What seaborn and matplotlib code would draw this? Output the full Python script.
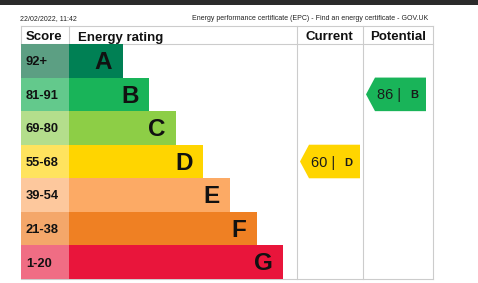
import matplotlib
matplotlib.use('Agg')
import matplotlib.pyplot as plt
from matplotlib.patches import Polygon, Rectangle
import seaborn as sns
import pandas as pd

# ---- data ----
bands = ['A', 'B', 'C', 'D', 'E', 'F', 'G']
score_ranges = ['92+', '81-91', '69-80', '55-68', '39-54', '21-38', '1-20']
band_lower = [92, 81, 69, 55, 39, 21, 1]
band_lengths = [2, 3, 4, 5, 6, 7, 8]
band_colors = ['#008054', '#19b459', '#8dce46', '#ffd500', '#fcaa65', '#ef8023', '#e9153b']
score_colors = ['#5c9f83', '#63c98c', '#b4de8c', '#ffe35e', '#fdc89d', '#f4a76a', '#f06d84']
current_score = 60
potential_score = 86
header_labels = ['Score', 'Energy rating', 'Current', 'Potential']
date_text = '22/02/2022, 11:42'
page_title = 'Energy performance certificate (EPC) - Find an energy certificate - GOV.UK'

plt.rcParams['font.family'] = ['Liberation Sans', 'DejaVu Sans']

W, H = 478, 283
fig = plt.figure(figsize=(W / 100, H / 100), dpi=100)
fig.patch.set_facecolor('white')

# overlay in pixel coordinates for layout (frame, header)
ov = fig.add_axes([0, 0, 1, 1])
ov.set_xlim(0, W)
ov.set_ylim(H, 0)
ov.axis('off')
ov.add_patch(Rectangle((0, 0), W, 5, color='#2b2b2b', lw=0))
ov.text(20, 19, date_text, fontsize=5, va='center', ha='left', color='#222222')
ov.text(428, 19, page_title, fontsize=5, va='center', ha='right', color='#222222')

T_L, T_R, T_TOP, T_HDR, T_BOT = 21, 433, 26, 44, 279
COL_BAR, COL_CUR, COL_POT = 69, 297, 363
lc = '#cccccc'
lw = 0.8
ov.plot([T_L, T_R], [T_TOP, T_TOP], color=lc, lw=lw)
ov.plot([T_L, T_R], [T_HDR, T_HDR], color=lc, lw=lw)
ov.plot([T_L, T_R], [T_BOT, T_BOT], color=lc, lw=lw)
ov.plot([T_L, T_L], [T_TOP, T_HDR], color=lc, lw=lw)
ov.plot([COL_BAR, COL_BAR], [T_TOP, T_HDR], color=lc, lw=lw)
for xx in (COL_CUR, COL_POT, T_R):
    ov.plot([xx, xx], [T_TOP, T_BOT], color=lc, lw=lw)

for lab, xx in zip(header_labels, [26, 78, 306, 370]):
    ov.text(xx, 40.5, lab, fontsize=9.5, weight='bold', va='baseline', ha='left', color='#111111')

# score column
axs = fig.add_axes([T_L / W, 1 - T_BOT / H, (COL_BAR - T_L) / W, (T_BOT - T_HDR) / H])
sdf = pd.DataFrame({'band': bands, 'w': [1] * len(bands)})
sns.barplot(data=sdf, x='w', y='band', hue='band', palette=score_colors, width=1,
            saturation=1, legend=False, ax=axs, orient='h', linewidth=0)
axs.set_xlim(0, 1)
axs.set_ylim(6.5, -0.5)
axs.axis('off')
for i, lab in enumerate(score_ranges):
    axs.text(5 / (COL_BAR - T_L), i + 0.04, lab, fontsize=9.3, weight='bold', va='center', ha='left', color='#111111')

# rating bars
u = 26.8
ax = fig.add_axes([COL_BAR / W, 1 - T_BOT / H, (T_R - COL_BAR) / W, (T_BOT - T_HDR) / H])
df = pd.DataFrame({'band': bands, 'length': band_lengths})
sns.barplot(data=df, x='length', y='band', hue='band', palette=band_colors, width=1,
            saturation=1, legend=False, ax=ax, orient='h', linewidth=0)
ax.set_xlim(0, (T_R - COL_BAR) / u)
ax.set_ylim(6.5, -0.5)
ax.axis('off')
for i, (b, L) in enumerate(zip(bands, band_lengths)):
    ax.text(L - 10.5 / u, i + 0.05, b, fontsize=17.5, weight='bold', va='center', ha='right', color='#111111')


def band_of(score):
    for i, lo in enumerate(band_lower):
        if score >= lo:
            return i
    return len(band_lower) - 1


def px(x):
    return (x - COL_BAR) / u


def arrow(score, col_left):
    i = band_of(score)
    xt, xb, xr = px(col_left + 3), px(col_left + 12), px(col_left + 63)
    poly = Polygon([(xt, i), (xb, i - 0.5), (xr, i - 0.5), (xr, i + 0.5), (xb, i + 0.5)],
                   closed=True, facecolor=band_colors[i], edgecolor='none', clip_on=False)
    ax.add_patch(poly)
    ax.text(px(col_left + 14), i + 0.03, f'{score} |', fontsize=10.5, va='center', ha='left', color='#1a1a1a')
    ax.text(px(col_left + 47), i + 0.03, bands[i], fontsize=8, weight='bold', va='center', ha='left', color='#1a1a1a')


arrow(current_score, COL_CUR)
arrow(potential_score, COL_POT)

fig.savefig('out.png', dpi=100)
